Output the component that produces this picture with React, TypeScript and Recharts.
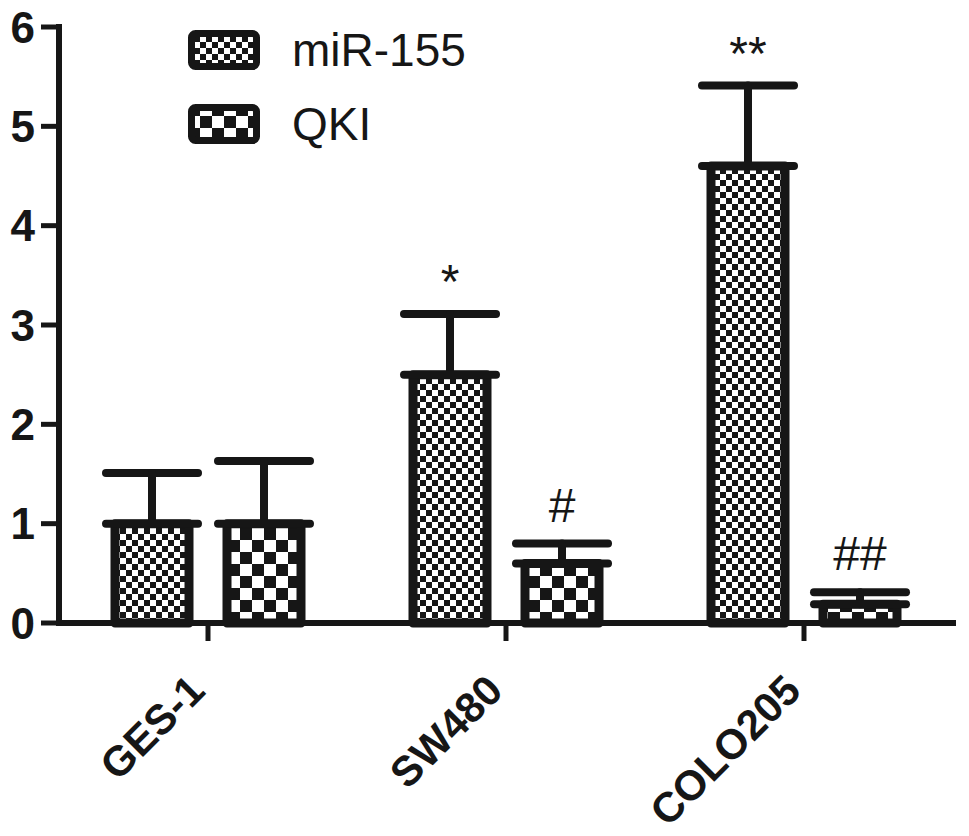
import React from "react";
import { BarChart, Bar, XAxis, YAxis, ErrorBar, LabelList } from "recharts";

// values
const categories = ["GES-1", "SW480", "COLO205"];
const mirValues = [1.0, 2.5, 4.6];
const mirErrors = [0.51, 0.61, 0.81];
const qkiValues = [1.0, 0.6, 0.19];
const qkiErrors = [0.63, 0.2, 0.12];
const mirMarks = ["", "*", "**"];
const qkiMarks = ["", "#", "##"];
const yTicks = [0, 1, 2, 3, 4, 5, 6];
const seriesNames = ["miR-155", "QKI"];

const INK = "#161616";
const FONT = "'Liberation Sans', Arial, Helvetica, sans-serif";

const data = categories.map((name, i) => ({
  name,
  mir: mirValues[i],
  mirErr: [0, mirErrors[i]],
  qki: qkiValues[i],
  qkiErr: [0, qkiErrors[i]],
}));

const Checker = ({ id, cell }: { id: string; cell: number }) => (
  <pattern id={id} width={cell * 2} height={cell * 2} patternUnits="userSpaceOnUse">
    <rect width={cell * 2} height={cell * 2} fill="#fff" />
    <rect x={0} y={0} width={cell} height={cell} fill={INK} />
    <rect x={cell} y={cell} width={cell} height={cell} fill={INK} />
  </pattern>
);

const CategoryTick = (props: any) => {
  const { x, y, payload } = props;
  const ax = x - 1;
  const ay = y + 50;
  return (
    <text
      x={ax}
      y={ay}
      transform={`rotate(-45, ${ax}, ${ay})`}
      textAnchor="end"
      fontSize={42}
      fontWeight="bold"
      fontFamily={FONT}
      fill={INK}
    >
      {payload.value}
    </text>
  );
};

// significance marks sit above the error bar top
const markLabel = (marks: string[], values: number[], errors: number[]) => (props: any) => {
  const vb = props.viewBox ?? props;
  const i = categories.indexOf(props.value);
  if (i < 0 || !marks[i]) return null;
  const pxPerUnit = vb.height / values[i];
  const top = vb.y - errors[i] * pxPerUnit;
  const gap = marks[i].startsWith("*") ? 16 : 22;
  return (
    <text
      x={vb.x + vb.width / 2}
      y={top - gap}
      textAnchor="middle"
      fontSize={48}
      fontFamily={FONT}
      fill={INK}
    >
      {marks[i]}
    </text>
  );
};

const Swatch = ({ id, cell }: { id: string; cell: number }) => (
  <svg width={72} height={40} style={{ display: "block" }}>
    <defs>
      <Checker id={id} cell={cell} />
    </defs>
    <rect x={3.5} y={3.5} width={65} height={33} rx={4} fill={`url(#${id})`} stroke={INK} strokeWidth={7} />
  </svg>
);

const LegendBox = () => (
  <div style={{ position: "absolute", left: 188, top: 30 }}>
    {seriesNames.map((name, i) => (
      <div
        key={name}
        style={{ display: "flex", alignItems: "center", height: 40, marginBottom: 34 }}
      >
        <Swatch id={`legPat${i}`} cell={i === 0 ? 6 : 12} />
        <span
          style={{
            marginLeft: 32,
            fontSize: 46,
            lineHeight: 1,
            fontFamily: FONT,
            color: INK,
          }}
        >
          {name}
        </span>
      </div>
    ))}
  </div>
);

export default function App() {
  return (
    <div style={{ position: "absolute", left: 0, top: 0, width: 969, height: 836, background: "#fff" }}>
      <BarChart
        width={969}
        height={836}
        data={data}
        margin={{ top: 27, right: 16, left: 0, bottom: 0 }}
        barGap={38}
      >
        <defs>
          <Checker id="mirPat" cell={6} />
          <Checker id="qkiPat" cell={12} />
        </defs>
        <XAxis
          dataKey="name"
          interval={0}
          height={213}
          tickSize={18}
          tickMargin={2}
          axisLine={{ stroke: INK, strokeWidth: 6, strokeLinecap: "square" }}
          tickLine={{ stroke: INK, strokeWidth: 5 }}
          tick={<CategoryTick />}
        />
        <YAxis
          width={59}
          domain={[0, 6]}
          ticks={yTicks}
          interval={0}
          tickSize={18}
          tickMargin={6}
          axisLine={{ stroke: INK, strokeWidth: 6, strokeLinecap: "square" }}
          tickLine={{ stroke: INK, strokeWidth: 5 }}
          tick={{ fontSize: 44, fontWeight: "bold", fontFamily: FONT, fill: INK }}
        />
        <Bar
          dataKey="mir"
          name={seriesNames[0]}
          barSize={74}
          fill="url(#mirPat)"
          stroke={INK}
          strokeWidth={9}
          strokeLinejoin="round"
          isAnimationActive={false}
        >
          <ErrorBar dataKey="mirErr" width={46} stroke={INK} strokeWidth={8} strokeLinecap="round" />
          <LabelList dataKey="name" content={markLabel(mirMarks, mirValues, mirErrors)} />
        </Bar>
        <Bar
          dataKey="qki"
          name={seriesNames[1]}
          barSize={74}
          fill="url(#qkiPat)"
          stroke={INK}
          strokeWidth={9}
          strokeLinejoin="round"
          isAnimationActive={false}
        >
          <ErrorBar dataKey="qkiErr" width={46} stroke={INK} strokeWidth={8} strokeLinecap="round" />
          <LabelList dataKey="name" content={markLabel(qkiMarks, qkiValues, qkiErrors)} />
        </Bar>
      </BarChart>
      <LegendBox />
    </div>
  );
}
